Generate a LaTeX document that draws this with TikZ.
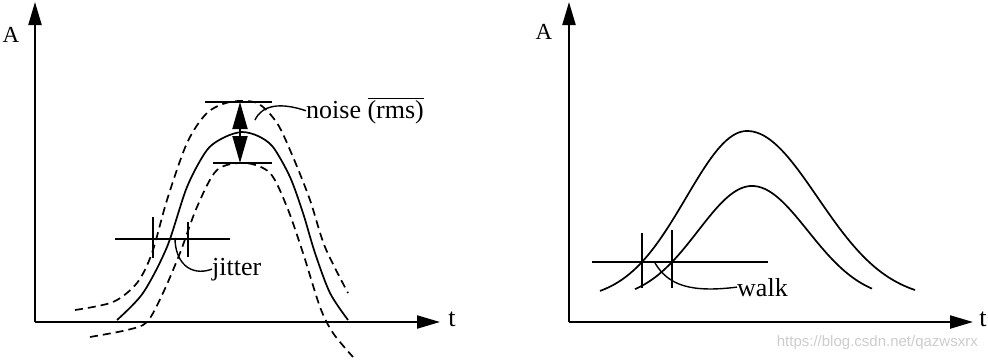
\documentclass[tikz,border=0pt]{standalone}
\usepackage{fontspec}
\setmainfont{Liberation Serif}
\newfontfamily\wmfont{Liberation Sans}
\usetikzlibrary{
  arrows.meta % For arrow tips
}

\begin{document}
\begin{tikzpicture}[
    x=1pt, y=-1pt, % pixel units, y downwards
    axis/.style={line width=2.2pt, -{Triangle[length=23pt,width=13pt]}}, % Axes
    pulse/.style={line width=1.7pt}, % Signal curves
    shifted/.style={pulse, dash pattern=on 8pt off 5pt}, % Noisy bounds
    marker/.style={line width=1.8pt}, % Threshold and level lines
    leader/.style={line width=1.4pt}, % Label leader lines
    lbl/.style={font=\fontsize{26}{30}\selectfont, inner sep=0pt},
    axlbl/.style={font=\fontsize{23}{27}\selectfont, inner sep=0pt},
  ]
  \useasboundingbox (0,0) rectangle (988,359);

  % Axes coordinates
  \coordinate (O1) at (35,322);
  \coordinate (Y1) at (35,2);
  \coordinate (X1) at (440,322);
  \coordinate (O2) at (569,322);
  \coordinate (Y2) at (569,2);
  \coordinate (X2) at (973,322);

  % Axes
  \foreach \o/\e in {O1/Y1, O1/X1, O2/Y2, O2/X2}
  \draw[axis] (\o) -- (\e);

  \node[axlbl] (A1) at (11,35) {A};
  \node[lbl] (t1) at (452,319) {t};
  \node[axlbl] (A2) at (544,32) {A};
  \node[lbl] (t2) at (983,319) {t};

  % Left: pulse with noise band
  \draw[pulse] plot[smooth] coordinates {(117,320) (143,293) (167,247)
    (187,187) (207,150) (225,137) (242,132) (258,136) (273,147) (290,177)
    (303,213) (315,253) (330,293) (348,320)};
  \draw[shifted] plot[smooth] coordinates {(75,310) (113,302) (137,283)
    (152,253) (167,200) (187,143) (207,113) (230,102) (257,103)
    (277,123) (293,157) (310,200) (325,247) (348,293)};
  \draw[shifted] plot[smooth] coordinates {(90,337) (127,330) (147,322)
    (163,293) (180,253) (197,207) (217,170) (245,163) (270,173)
    (287,207) (303,253) (320,307) (333,333) (353,357)};

  % Noise levels
  \draw[marker] (205,102) -- (272,102);
  \draw[marker] (213,163) -- (272,163);
  \coordinate (Nt) at (240,102);
  \coordinate (Nb) at (240,163);
  \draw[marker, {Triangle[length=27pt,width=15pt]}-{Triangle[length=27pt,width=15pt]}] (Nt) -- (Nb);

  \node[lbl, anchor=base west] (noise) at (306,118) {noise $\overline{\mbox{(rms)}}$};
  \coordinate (Nl) at (255,120);
  \draw[leader] (Nl) .. controls (262,105) and (280,102) .. (noise.west);

  % Jitter
  \draw[marker] (115,239) -- (230,239);
  \draw[marker] (153,217) -- (153,258);
  \draw[marker] (188,222) -- (188,257);
  \node[lbl, anchor=base west] (jitter) at (212,275) {jitter};
  \coordinate (Jl) at (175,238);
  \draw[leader] (Jl) .. controls (175,262) and (190,277) .. (jitter.west);

  % Right: two pulses with walk
  \draw[pulse] plot[domain=600:747, samples=50] (\x, {300-169*exp(-((\x-747)/86)^2)})
    -- plot[domain=747:915, samples=50] (\x, {300-169*exp(-((\x-747)/99.9)^2)});
  \draw[pulse] plot[domain=635:752, samples=50] (\x, {300-114*exp(-((\x-752)/76.3)^2)})
    -- plot[domain=752:872, samples=50] (\x, {300-114*exp(-((\x-752)/79)^2)});

  \draw[marker] (592,262) -- (768,262);
  \draw[marker] (642,233) -- (642,288);
  \draw[marker] (672,230) -- (672,288);
  \node[lbl, anchor=base west] (walk) at (737,296) {walk};
  \coordinate (Wl) at (655,263);
  \draw[leader] (Wl) .. controls (668,285) and (690,293) .. (walk.west);

  % Watermark
  \node[font=\wmfont\fontsize{15}{18}\selectfont, text=gray!40, anchor=east, inner sep=0pt]
    (wm) at (978,343) {https://blog.csdn.net/qazwsxrx};
\end{tikzpicture}
\end{document}
